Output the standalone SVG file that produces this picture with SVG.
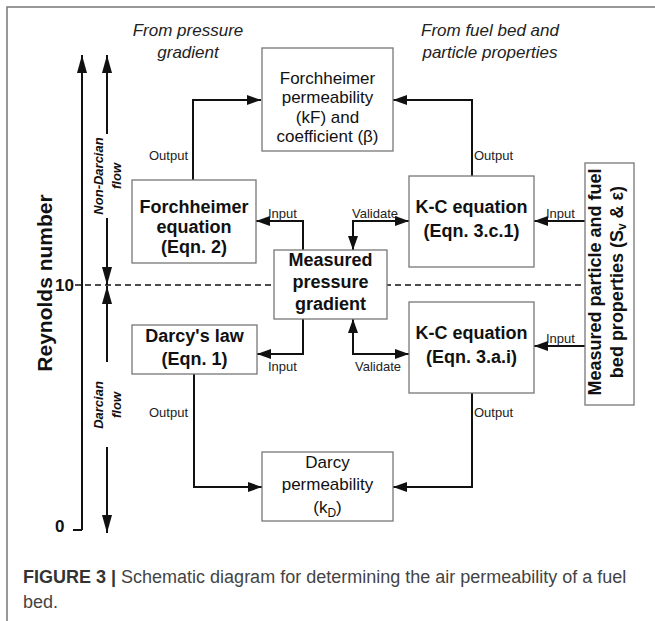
<svg xmlns="http://www.w3.org/2000/svg" width="655" height="621" viewBox="0 0 655 621">
<style>
text{font-family:"Liberation Sans",Arial,sans-serif;fill:#111}
.box{fill:#fff;stroke:#777;stroke-width:1.3}
.b{font-weight:bold;font-size:18px}
.r{font-size:17px}
.s{font-size:13px;fill:#222}
.it{font-style:italic;font-size:17px;fill:#222}
.fl{font-style:italic;font-weight:bold;font-size:13px}
.c{text-anchor:middle}
.ln{fill:none;stroke:#111;stroke-width:2}
.ax{fill:none;stroke:#111;stroke-width:2}
.cap{font-size:18px;fill:#444}
</style>
<defs>
<marker id="ah" markerUnits="userSpaceOnUse" markerWidth="14" markerHeight="10" refX="14" refY="5" orient="auto-start-reverse">
<path d="M0,0 L14,5 L0,10 z" fill="#111"/>
</marker>
<marker id="aa" markerUnits="userSpaceOnUse" markerWidth="18" markerHeight="10" refX="18" refY="5" orient="auto">
<path d="M0,0 L18,5 L0,10 z" fill="#111"/>
</marker>
</defs>
<rect width="655" height="621" fill="#fff"/>
<path d="M7,621 V7 H655" fill="none" stroke="#777" stroke-width="1.5"/>

<g id="headings">
<text class="it c" x="188" y="36">From pressure</text>
<text class="it c" x="188" y="58">gradient</text>
<text class="it c" x="490" y="36">From fuel bed and</text>
<text class="it c" x="490" y="58">particle properties</text>
</g>

<g id="axis">
<path class="ax" d="M82,530 V55" marker-end="url(#aa)"/>
<path class="ax" d="M73,530 H82"/>
<text x="55" y="532" style="font-weight:bold;font-size:17px">0</text>
<text x="55" y="291" style="font-weight:bold;font-size:17px">10</text>
<text class="c" transform="translate(52,283) rotate(-90)" style="font-weight:bold;font-size:21px">Reynolds number</text>
<path class="ax" d="M107,134 V55" marker-end="url(#aa)"/>
<path class="ax" d="M107,218 V285" marker-end="url(#aa)"/>
<path class="ax" d="M107,362 V286" marker-end="url(#aa)"/>
<path class="ax" d="M107,447 V533" marker-end="url(#aa)"/>
<text class="fl c" transform="translate(103,176) rotate(-90)">Non-Darcian</text>
<text class="fl c" transform="translate(121,176) rotate(-90)">flow</text>
<text class="fl c" transform="translate(103,405) rotate(-90)">Darcian</text>
<text class="fl c" transform="translate(121,405) rotate(-90)">flow</text>
</g>

<path d="M75,285 H585" fill="none" stroke="#111" stroke-width="1.5" stroke-dasharray="6,4"/>

<g id="connectors">
<path class="ln" d="M193,180 V100 H261" marker-end="url(#ah)"/>
<path class="ln" d="M472,176 V100 H393" marker-end="url(#ah)"/>
<path class="ln" d="M303,250 V221 H256" marker-end="url(#ah)"/>
<path class="ln" d="M409,221 H353 V250" marker-start="url(#ah)" marker-end="url(#ah)"/>
<path class="ln" d="M585,221 H534" marker-end="url(#ah)"/>
<path class="ln" d="M303,319 V354 H257" marker-end="url(#ah)"/>
<path class="ln" d="M409,354 H353 V319" marker-start="url(#ah)" marker-end="url(#ah)"/>
<path class="ln" d="M585,346 H534" marker-end="url(#ah)"/>
<path class="ln" d="M194,374 V487 H262" marker-end="url(#ah)"/>
<path class="ln" d="M472,393 V487 H393" marker-end="url(#ah)"/>
<text class="s" x="188" y="160" text-anchor="end">Output</text>
<text class="s" x="474" y="160">Output</text>
<text class="s" x="268" y="218">Input</text>
<text class="s" x="352" y="218">Validate</text>
<text class="s" x="546" y="218">Input</text>
<text class="s" x="546" y="343">Input</text>
<text class="s" x="268" y="371">Input</text>
<text class="s" x="355" y="371">Validate</text>
<text class="s" x="188" y="417" text-anchor="end">Output</text>
<text class="s" x="474" y="417">Output</text>
</g>

<g id="forchheimer-permeability">
<rect class="box" x="262" y="48" width="131" height="103"/>
<text class="r c" x="327.5" y="84">Forchheimer</text>
<text class="r c" x="327.5" y="103">permeability</text>
<text class="r c" x="327.5" y="123">(kF) and</text>
<text class="r c" x="327.5" y="142">coefficient (β)</text>
</g>

<g id="forchheimer-equation">
<rect class="box" x="132" y="180" width="124" height="83"/>
<text class="b c" x="194" y="213">Forchheimer</text>
<text class="b c" x="194" y="233">equation</text>
<text class="b c" x="194" y="253">(Eqn. 2)</text>
</g>

<g id="kc-upper">
<rect class="box" x="409" y="176" width="125" height="91"/>
<text class="b c" x="471.5" y="213">K-C equation</text>
<text class="b c" x="471.5" y="237">(Eqn. 3.c.1)</text>
</g>

<g id="measured-pressure">
<rect class="box" x="274" y="250" width="113" height="69"/>
<text class="b c" x="330.5" y="266">Measured</text>
<text class="b c" x="330.5" y="288">pressure</text>
<text class="b c" x="330.5" y="310">gradient</text>
</g>

<g id="measured-properties">
<rect class="box" x="585" y="163" width="49" height="242"/>
<text class="b c" transform="translate(601,282) rotate(-90)">Measured particle and fuel</text>
<text class="b c" transform="translate(623,282) rotate(-90)">bed properties (S<tspan dy="3" font-size="12">v</tspan><tspan dy="-3"> &amp; ε)</tspan></text>
</g>

<g id="darcys-law">
<rect class="box" x="132" y="325" width="125" height="49"/>
<text class="b c" x="194.5" y="342">Darcy's law</text>
<text class="b c" x="194.5" y="365">(Eqn. 1)</text>
</g>

<g id="kc-lower">
<rect class="box" x="409" y="302" width="125" height="91"/>
<text class="b c" x="471.5" y="339">K-C equation</text>
<text class="b c" x="471.5" y="363">(Eqn. 3.a.i)</text>
</g>

<g id="darcy-permeability">
<rect class="box" x="262" y="452" width="131" height="69"/>
<text class="r c" x="327.5" y="468">Darcy</text>
<text class="r c" x="327.5" y="490">permeability</text>
<text class="r c" x="327.5" y="513">(k<tspan dy="4" font-size="12">D</tspan><tspan dy="-4">)</tspan></text>
</g>

<g id="caption">
<text class="cap" x="23" y="583"><tspan font-weight="bold" fill="#333">FIGURE 3 |</tspan> Schematic diagram for determining the air permeability of a fuel</text>
<text class="cap" x="23" y="608">bed.</text>
</g>
</svg>
